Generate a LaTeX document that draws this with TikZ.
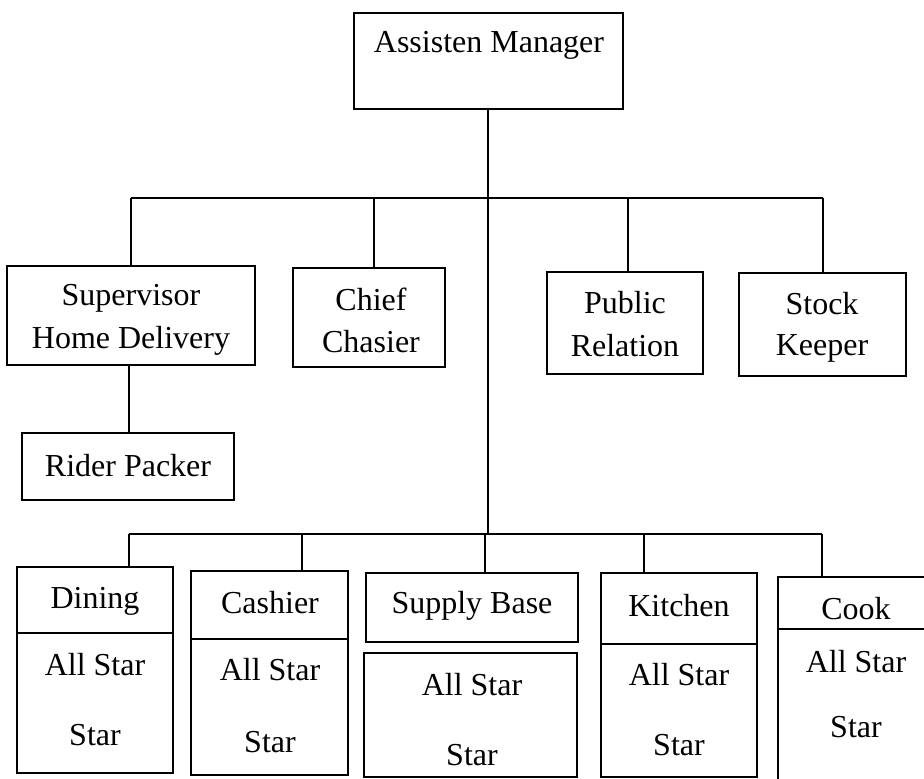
\documentclass[tikz,border=0pt]{standalone}
\usepackage{fontspec}
\setmainfont{Liberation Serif}
\usetikzlibrary{fit}
\begin{document}
\begin{tikzpicture}[x=0.75pt,y=-0.75pt,
  box/.style={draw,line width=1.6pt,inner sep=0pt},
  txt/.style={font=\fontsize{24}{28}\selectfont,inner sep=0pt},
  link/.style={line width=1.6pt}]
\useasboundingbox (0,0) rectangle (924,778);
% top
\node[box,fit={(354,13)(623,109)}] (mgr) {};
\node[txt] (mgrT) at (489,45) {Assisten Manager};
% buses
\coordinate (b1L) at (131,198);
\coordinate (b1R) at (823,198);
\coordinate (b2L) at (129,534);
\coordinate (b2R) at (822,534);
\coordinate (b2M) at (488,534);
\draw[link] (b1L) -- (b1R);
\draw[link] (b2L) -- (b2R);
\draw[link] (mgr.south -| b2M) -- (b2M);
% level 2
\node[box,fit={(7,266)(255,365)}] (sup) {};
\node[txt] (supT1) at (131,298) {Supervisor};
\node[txt] (supT2) at (131,341) {Home Delivery};
\node[box,fit={(293,268)(445,367)}] (chief) {};
\node[txt] (chiefT1) at (371,299) {Chief};
\node[txt] (chiefT2) at (371,342) {Chasier};
\node[box,fit={(547,272)(703,374)}] (pub) {};
\node[txt] (pubT1) at (625,303) {Public};
\node[txt] (pubT2) at (625,346) {Relation};
\node[box,fit={(739,273)(906,376)}] (stock) {};
\node[txt] (stockT1) at (822,304) {Stock};
\node[txt] (stockT2) at (822,348) {Keeper};
\coordinate (d1) at (131,198);
\coordinate (d2) at (374,198);
\coordinate (d3) at (628,198);
\coordinate (d4) at (823,198);
\draw[link] (d1) -- (d1 |- sup.north);
\draw[link] (d2) -- (d2 |- chief.north);
\draw[link] (d3) -- (d3 |- pub.north);
\draw[link] (d4) -- (d4 |- stock.north);
% rider
\node[box,fit={(22,433)(234,500)}] (rider) {};
\node[txt] (riderT) at (128,466) {Rider Packer};
\coordinate (rs) at (129,365);
\draw[link] (rs) -- (rs |- rider.north);
% bottom boxes
\node[box,fit={(17,567)(173,773)}] (din) {};
\draw[link] (din.west |- 0,633) -- (din.east |- 0,633);
\node[txt] (dinT1) at (95,601) {Dining};
\node[txt] (dinT2) at (95,665) {All Star};
\node[txt] (dinT3) at (95,735) {Star};
\node[box,fit={(191,571)(348,775)}] (cash) {};
\draw[link] (cash.west |- 0,639) -- (cash.east |- 0,639);
\node[txt] (cashT1) at (270,603) {Cashier};
\node[txt] (cashT2) at (270,670) {All Star};
\node[txt] (cashT3) at (270,742) {Star};
\node[box,fit={(366,573)(578,642)}] (sup1) {};
\node[box,fit={(364,653)(577,777)}] (sup2) {};
\node[txt] (supbT1) at (472,606) {Supply Base};
\node[txt] (supbT2) at (472,685) {All Star};
\node[txt] (supbT3) at (472,755) {Star};
\node[box,fit={(601,573)(757,777)}] (kit) {};
\draw[link] (kit.west |- 0,644) -- (kit.east |- 0,644);
\node[txt] (kitT1) at (679,606) {Kitchen};
\node[txt] (kitT2) at (679,675) {All Star};
\node[txt] (kitT3) at (679,745) {Star};
\node[box,fit={(778,577)(945,800)}] (cook) {};
\draw[link] (cook.west |- 0,629) -- (cook.east |- 0,629);
\node[txt] (cookT1) at (856,609) {Cook};
\node[txt] (cookT2) at (856,662) {All Star};
\node[txt] (cookT3) at (856,727) {Star};
\coordinate (e1) at (129,534);
\coordinate (e2) at (302,534);
\coordinate (e3) at (485,534);
\coordinate (e4) at (644,534);
\coordinate (e5) at (822,534);
\draw[link] (e1) -- (e1 |- din.north);
\draw[link] (e2) -- (e2 |- cash.north);
\draw[link] (e3) -- (e3 |- sup1.north);
\draw[link] (e4) -- (e4 |- kit.north);
\draw[link] (e5) -- (e5 |- cook.north);
\end{tikzpicture}
\end{document}
